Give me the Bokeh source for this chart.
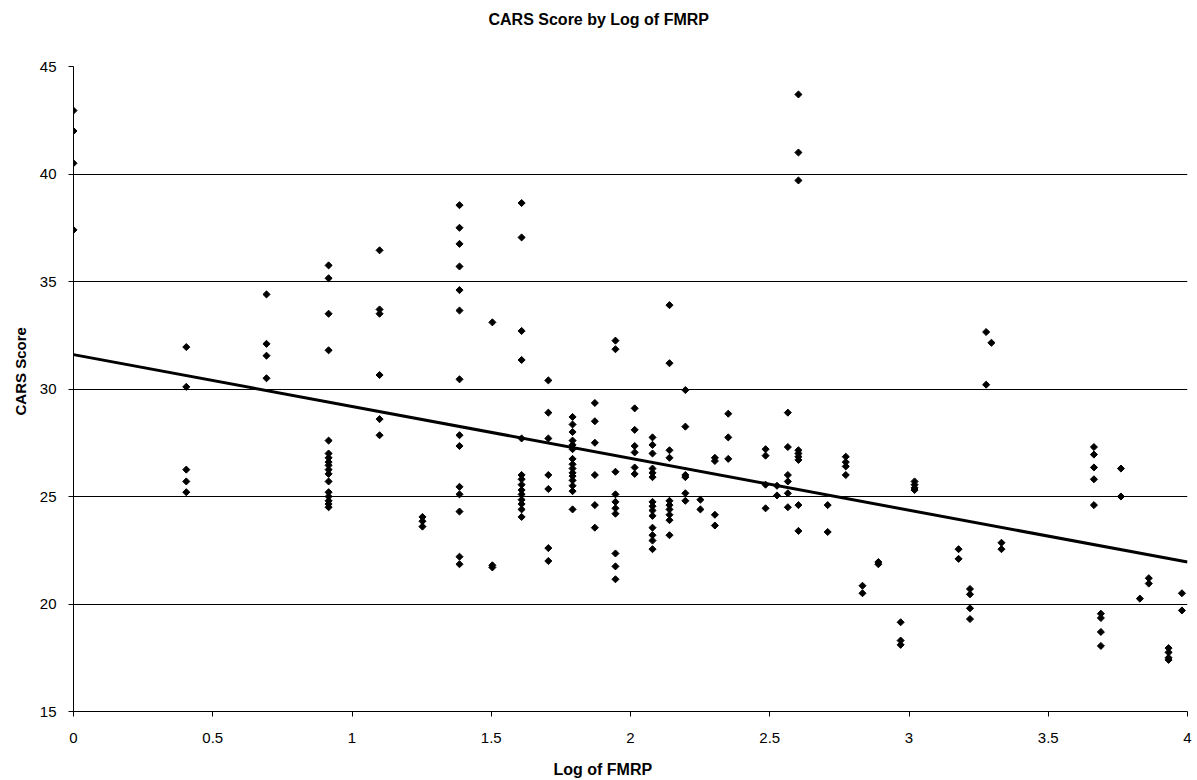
import numpy as np
from bokeh.plotting import figure
from bokeh.models import FixedTicker, Range1d, Title
from bokeh.embed import file_html
from bokeh.resources import INLINE

# ---- data (x = natural log of FMRP) ----
log_fmrp = (
    [0.0] * 4 + [0.405] * 5 + [0.693] * 4 + [0.916] * 17 + [1.099] * 6 +
    [1.253] * 3 + [1.386] * 14 + [1.504] * 3 + [1.609] * 14 + [1.705] * 7 +
    [1.792] * 15 + [1.872] * 6 + [1.946] * 10 + [2.015] * 6 + [2.079] * 14 +
    [2.140] * 10 + [2.197] * 6 + [2.251] * 2 + [2.303] * 4 + [2.351] * 3 +
    [2.485] * 4 + [2.526] * 2 + [2.565] * 6 + [2.603] * 9 + [2.708] * 2 +
    [2.773] * 4 + [2.833] * 2 + [2.890] * 2 + [2.970] * 3 + [3.020] * 4 +
    [3.178] * 2 + [3.219] * 4 + [3.277] * 2 + [3.296] * 1 + [3.332] * 2 +
    [3.664] * 5 + [3.689] * 4 + [3.761] * 2 + [3.829] * 1 + [3.861] * 2 +
    [3.932] * 4 + [3.980] * 2
)

cars_score = [
    42.95, 42.0, 40.5, 37.4,
    31.95, 30.1, 26.25, 25.7, 25.2,
    34.4, 32.1, 31.55, 30.5,
    35.75, 35.15, 33.5, 31.8, 27.6, 27.0, 26.8, 26.6, 26.45, 26.25, 26.05, 25.7, 25.2, 25.0, 24.8, 24.65, 24.5,
    36.45, 33.7, 33.5, 30.65, 28.6, 27.85,
    24.05, 23.85, 23.6,
    38.55, 37.5, 36.75, 35.7, 34.6, 33.65, 30.45, 27.85, 27.35, 25.45, 25.1, 24.3, 22.2, 21.85,
    33.1, 21.8, 21.7,
    38.65, 37.05, 32.7, 31.35, 27.7, 26.0, 25.8, 25.55, 25.3, 25.1, 24.85, 24.65, 24.4, 24.05,
    30.4, 28.9, 27.7, 26.0, 25.35, 22.6, 22.0,
    28.7, 28.35, 28.0, 27.6, 27.4, 27.2, 26.75, 26.5, 26.3, 26.1, 25.95, 25.75, 25.5, 25.25, 24.4,
    29.35, 28.5, 27.5, 26.0, 24.6, 23.55,
    32.25, 31.85, 26.15, 25.1, 24.75, 24.45, 24.2, 22.35, 21.75, 21.15,
    29.1, 28.1, 27.35, 27.05, 26.35, 26.05,
    27.75, 27.4, 27.0, 26.3, 26.1, 25.9, 24.75, 24.55, 24.35, 24.1, 23.55, 23.2, 22.95, 22.55,
    33.9, 31.2, 27.15, 26.8, 24.8, 24.6, 24.4, 24.15, 23.9, 23.2,
    29.95, 28.25, 26.0, 25.9, 25.15, 24.8,
    24.85, 24.4,
    26.8, 26.65, 24.15, 23.65,
    28.85, 27.75, 26.75,
    27.2, 26.9, 25.55, 24.45,
    25.5, 25.05,
    28.9, 27.3, 26.0, 25.7, 25.15, 24.5,
    43.7, 41.0, 39.7, 27.15, 27.0, 26.85, 26.7, 24.6, 23.4,
    24.6, 23.35,
    26.85, 26.6, 26.4, 26.0,
    20.85, 20.5,
    21.95, 21.85,
    19.15, 18.3, 18.1,
    25.7, 25.55, 25.4, 25.3,
    22.55, 22.1,
    20.7, 20.45, 19.8, 19.3,
    32.65, 30.2,
    32.15,
    22.85, 22.55,
    27.3, 26.95, 26.35, 25.8, 24.6,
    19.55, 19.35, 18.7, 18.05,
    26.3, 25.0,
    20.25,
    21.2, 20.95,
    17.95, 17.75, 17.5, 17.4,
    20.5, 19.7,
]

# linear trendline as drawn in the reference (values at x = 0 and x = 4)
trend_x = [0.0, 4.0]
trend_y = [31.6, 21.95]

x_ticks = [0, 0.5, 1, 1.5, 2, 2.5, 3, 3.5, 4]
x_tick_labels = ["0", "0.5", "1", "1.5", "2", "2.5", "3", "3.5", "4"]
y_ticks = [15, 20, 25, 30, 35, 40, 45]
y_tick_labels = ["15", "20", "25", "30", "35", "40", "45"]

chart_title = "CARS Score by Log of FMRP"
x_title = "Log of FMRP"
y_title = "CARS Score"

FONT = "Liberation Sans"

p = figure(width=1197, height=780, output_backend="svg", toolbar_location=None,
           x_range=Range1d(0, 4), y_range=Range1d(15, 45), title=None,
           min_border_left=73, min_border_right=10, min_border_top=66, min_border_bottom=69)

p.outline_line_color = None
p.background_fill_color = "white"
p.border_fill_color = "white"

p.line(trend_x, trend_y, line_color="black", line_width=3)
p.scatter(log_fmrp, cars_score, marker="square", size=5, angle=np.pi / 4,
          fill_color="black", line_color="black", line_width=1)

p.xaxis.ticker = FixedTicker(ticks=x_ticks)
p.xaxis.major_label_overrides = {t: l for t, l in zip(x_ticks, x_tick_labels)}
p.yaxis.ticker = FixedTicker(ticks=y_ticks)
p.yaxis.major_label_overrides = {t: l for t, l in zip(y_ticks, y_tick_labels)}

for ax in (p.xaxis[0], p.yaxis[0]):
    ax.axis_line_color = "black"
    ax.major_tick_line_color = "black"
    ax.minor_tick_line_color = None
    ax.major_tick_in = 0
    ax.major_tick_out = 5
    ax.major_label_text_font = FONT
    ax.major_label_text_font_size = "15px"
    ax.major_label_text_color = "black"

p.xaxis.major_label_standoff = 16
p.yaxis.major_label_standoff = 12

p.xgrid.grid_line_color = None
p.ygrid.grid_line_color = "black"
p.ygrid.grid_line_width = 1


def title_style(**kw):
    return dict(text_font=FONT, text_font_style="bold", text_color="black", **kw)


# top: spacer next to the frame, then the chart title further out
p.add_layout(Title(text=" ", text_font_size="1px", standoff=36), "above")
p.add_layout(Title(text=chart_title, align="left", offset=415, standoff=0,
                   **title_style(text_font_size="16px")), "above")

# bottom: axis, spacer, then the x title
p.add_layout(Title(text=" ", text_font_size="1px", standoff=10), "below")
p.add_layout(Title(text=x_title, align="left", offset=480, standoff=0,
                   **title_style(text_font_size="16px")), "below")

# left: y title, outside the axis
p.add_layout(Title(text=y_title, align="left", offset=296, standoff=15,
                   **title_style(text_font_size="15px")), "left")

open("out.html", "w").write(file_html(p, INLINE))
